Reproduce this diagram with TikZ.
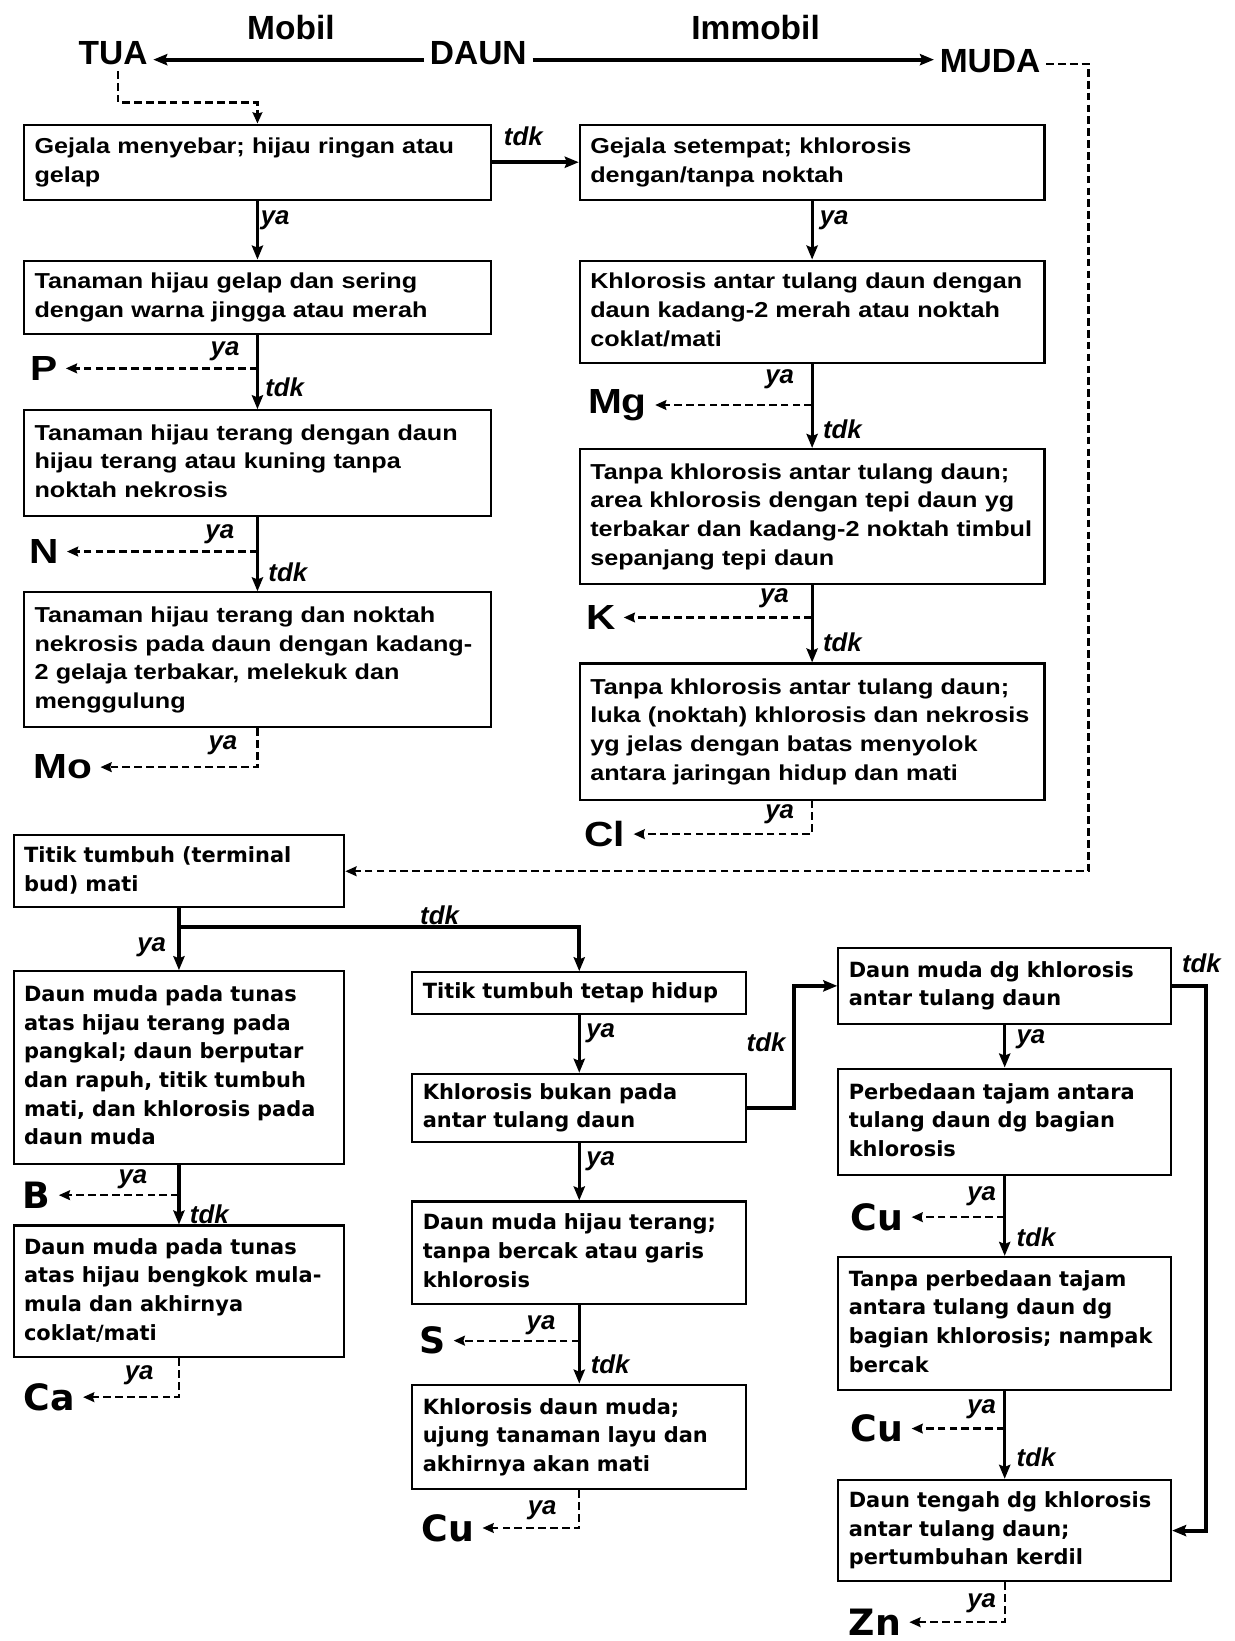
\documentclass[tikz,border=0pt]{standalone}
\usepackage{fontspec}
\setmainfont{Liberation Sans}
\newfontfamily\topf{Liberation Sans}[FakeStretch=1.165]
\newfontfamily\botf{DejaVu Sans}
\usetikzlibrary{arrows.meta,calc}
\newcommand\boxtext[1]{\begin{tabular}{@{}l@{}}#1\end{tabular}}
\begin{document}
\begin{tikzpicture}[x=0.75pt,y=-0.75pt,
  wh/.style 2 args={minimum width={#1*0.75pt}, minimum height={#2*0.75pt}, text width={(#1-20)*0.75pt}},
  tbox/.style={draw, line width=1.5pt, inner sep=0pt, anchor=north west, align=left, font=\topf\bfseries\fontsize{15.5}{20.5}\selectfont},
  bbox/.style={tbox, font=\botf\bfseries\fontsize{15}{20.5}\selectfont},
  big/.style={font=\bfseries\fontsize{24}{28}\selectfont, inner sep=4pt, anchor=base},
  res/.style={font=\topf\bfseries\fontsize{25}{28}\selectfont, inner sep=0pt, outer sep=6pt},
  bres/.style={font=\botf\bfseries\fontsize{26}{28}\selectfont, inner sep=0pt, outer sep=6pt},
  lab/.style={font=\bfseries\itshape\fontsize{18.5}{22}\selectfont, inner sep=0pt},
  arr/.style={line width=2.2pt, -{Stealth[length=10pt,width=8pt,inset=1.5pt]}},
  barr/.style={arr, line width=3pt},
  dsh/.style={line width=1.6pt, dash pattern=on 5.5pt off 3pt, -{Stealth[length=8pt,width=7pt,inset=1pt]}},
]
\fill[white] (0,0) rectangle (1180,1568);
\useasboundingbox (0,0) rectangle (1180,1568);

% top labels
\node[big] (tua) at (108,62) {TUA};
\node[big] (daun) at (457,62) {DAUN};
\node[big] (muda) at (946,69) {MUDA};
\node[big] (mobil) at (278,38) {Mobil};
\node[big] (immobil) at (722,38) {Immobil};

% boxes top
\node[tbox, wh={446}{72}] (b1) at (22,118) {\boxtext{Gejala menyebar; hijau ringan atau\\gelap}};
\node[tbox, wh={446}{70}] (b2) at (22,248) {\boxtext{Tanaman hijau gelap dan sering\\dengan warna jingga atau merah}};
\node[tbox, wh={446}{101}] (b3) at (22,391) {\boxtext{Tanaman hijau terang dengan daun\\hijau terang atau kuning tanpa\\noktah nekrosis}};
\node[tbox, wh={446}{129}] (b4) at (22,565) {\boxtext{Tanaman hijau terang dan noktah\\nekrosis pada daun dengan kadang-\\2 gelaja terbakar, melekuk dan\\menggulung}};
\node[tbox, wh={444}{72}] (b5) at (553,118) {\boxtext{Gejala setempat; khlorosis\\dengan/tanpa noktah}};
\node[tbox, wh={444}{98}] (b6) at (553,248) {\boxtext{Khlorosis antar tulang daun dengan\\daun kadang-2 merah atau noktah\\coklat/mati}};
\node[tbox, wh={444}{129}] (b7) at (553,428) {\boxtext{Tanpa khlorosis antar tulang daun;\\area khlorosis dengan tepi daun yg\\terbakar dan kadang-2 noktah timbul\\sepanjang tepi daun}};
\node[tbox, wh={444}{130}] (b8) at (553,633) {\boxtext{Tanpa khlorosis antar tulang daun;\\luka (noktah) khlorosis dan nekrosis\\yg jelas dengan batas menyolok\\antara jaringan hidup dan mati}};

% boxes bottom
\node[bbox, wh={316}{69}] (b9) at (12,797) {\boxtext{Titik tumbuh (terminal\\bud) mati}};
\node[bbox, wh={316}{184}] (b10) at (12,927) {\boxtext{Daun muda pada tunas\\atas hijau terang pada\\pangkal; daun berputar\\dan rapuh, titik tumbuh\\mati, dan khlorosis pada\\daun muda}};
\node[bbox, wh={316}{126}] (b11) at (12,1170) {\boxtext{Daun muda pada tunas\\atas hijau bengkok mula-\\mula dan akhirnya\\coklat/mati}};
\node[bbox, wh={319}{40}] (b12) at (393,928) {\boxtext{Titik tumbuh tetap hidup}};
\node[bbox, wh={319}{65}] (b13) at (393,1025) {\boxtext{Khlorosis bukan pada\\antar tulang daun}};
\node[bbox, wh={319}{98}] (b14) at (393,1147) {\boxtext{Daun muda hijau terang;\\tanpa bercak atau garis\\khlorosis}};
\node[bbox, wh={319}{100}] (b15) at (393,1322) {\boxtext{Khlorosis daun muda;\\ujung tanaman layu dan\\akhirnya akan mati}};
\node[bbox, wh={318}{72}] (b16) at (800,905) {\boxtext{Daun muda dg khlorosis\\antar tulang daun}};
\node[bbox, wh={318}{102}] (b17) at (800,1020) {\boxtext{Perbedaan tajam antara\\tulang daun dg bagian\\khlorosis}};
\node[bbox, wh={318}{127}] (b18) at (800,1200) {\boxtext{Tanpa perbedaan tajam\\antara tulang daun dg\\bagian khlorosis; nampak\\bercak}};
\node[bbox, wh={318}{97}] (b19) at (800,1413) {\boxtext{Daun tengah dg khlorosis\\antar tulang daun;\\pertumbuhan kerdil}};

% results
\node[res] (P) at (42,352) {P};
\node[res] (N) at (42,527) {N};
\node[res] (Mo) at (60,733) {Mo};
\node[res] (Mg) at (590,387) {Mg};
\node[res] (K) at (574,590) {K};
\node[res] (Cl) at (578,797) {Cl};
\node[bres] (B) at (35,1142) {B};
\node[bres] (Ca) at (47,1335) {Ca};
\node[bres] (S) at (413,1281) {S};
\node[bres] (Cu1) at (428,1460) {Cu};
\node[bres] (Cu2) at (838,1163) {Cu};
\node[bres] (Cu3) at (838,1365) {Cu};
\node[bres] (Zn) at (836,1550) {Zn};

% ya / tdk labels
\node[lab] (l1) at (263,210) {ya};
\node[lab] (l2) at (215,336) {ya};
\node[lab] (l3) at (272,370) {tdk};
\node[lab] (l4) at (210,510) {ya};
\node[lab] (l5) at (275,547) {tdk};
\node[lab] (l6) at (213,712) {ya};
\node[lab] (l7) at (500,130) {tdk};
\node[lab] (l8) at (797,210) {ya};
\node[lab] (l9) at (745,362) {ya};
\node[lab] (l10) at (805,410) {tdk};
\node[lab] (l11) at (740,572) {ya};
\node[lab] (l12) at (805,614) {tdk};
\node[lab] (l13) at (745,778) {ya};
\node[lab] (l14) at (420,875) {tdk};
\node[lab] (l15) at (145,905) {ya};
\node[lab] (l16) at (127,1127) {ya};
\node[lab] (l17) at (200,1160) {tdk};
\node[lab] (l18) at (133,1314) {ya};
\node[lab] (l19) at (574,987) {ya};
\node[lab] (l20) at (574,1110) {ya};
\node[lab] (l21) at (732,996) {tdk};
\node[lab] (l22) at (517,1266) {ya};
\node[lab] (l23) at (583,1304) {tdk};
\node[lab] (l24) at (518,1443) {ya};
\node[lab] (l25) at (1148,920) {tdk};
\node[lab] (l26) at (985,993) {ya};
\node[lab] (l27) at (938,1143) {ya};
\node[lab] (l28) at (990,1182) {tdk};
\node[lab] (l29) at (938,1347) {ya};
\node[lab] (l30) at (990,1392) {tdk};
\node[lab] (l31) at (938,1532) {ya};

% coordinates
\coordinate (tc) at (113,98);
\coordinate (mc) at (1040,60);
\coordinate (sp) at (170,886);

% top connectors
\draw[line width=2.8pt, -{Stealth[length=10pt,width=8pt,inset=1.5pt]}] ([yshift=3.75pt]daun.base west) -- ([yshift=3.75pt]daun.base west -| tua.east);
\draw[line width=2.8pt, -{Stealth[length=10pt,width=8pt,inset=1.5pt]}] ([yshift=3.75pt]daun.base east) -- ([yshift=3.75pt]daun.base east -| muda.west);
\draw[dsh] (tua.south -| tc) -- (tc) -| (b1.north);
\draw[dsh] ([yshift=6pt]muda.base east) -| (mc |- b9.east) -- (b9.east);

% left column
\draw[arr] (b1.south) -- (b2.north);
\draw[arr] (b2.south) -- (b3.north);
\draw[dsh] (b2.south |- P) -- (P);
\draw[arr] (b3.south) -- (b4.north);
\draw[dsh] (b3.south |- N) -- (N);
\draw[dsh] (b4.south) |- (Mo);
\draw[barr] (b1.east) -- (b5.west);

% right column
\draw[arr] (b5.south) -- (b6.north);
\draw[arr] (b6.south) -- (b7.north);
\draw[dsh] (b6.south |- Mg) -- (Mg);
\draw[arr] (b7.south) -- (b8.north);
\draw[dsh] (b7.south |- K) -- (K);
\draw[dsh] (b8.south) |- (Cl);

% bottom left
\draw[barr] (b9.south) -- (b10.north);
\draw[barr] (sp) -| (b12.north);
\draw[barr] (b10.south) -- (b11.north);
\draw[dsh] (b10.south |- B) -- (B);
\draw[dsh] (b11.south) |- (Ca);

% bottom middle
\draw[arr] (b12.south) -- (b13.north);
\draw[arr] (b13.south) -- (b14.north);
\draw[arr] (b14.south) -- (b15.north);
\draw[dsh] (b14.south |- S) -- (S);
\draw[dsh] (b15.south) |- (Cu1);
\draw[barr] (b13.east) -- ++(45,0) |- (b16.west);

% bottom right
\draw[arr] (b16.south) -- (b17.north);
\draw[arr] (b17.south) -- (b18.north);
\draw[dsh] (b17.south |- Cu2) -- (Cu2);
\draw[arr] (b18.south) -- (b19.north);
\draw[dsh] (b18.south |- Cu3) -- (Cu3);
\draw[dsh] (b19.south) |- (Zn);
\draw[barr] (b16.east) -- ++(32,0) |- (b19.east);
\end{tikzpicture}
\end{document}
